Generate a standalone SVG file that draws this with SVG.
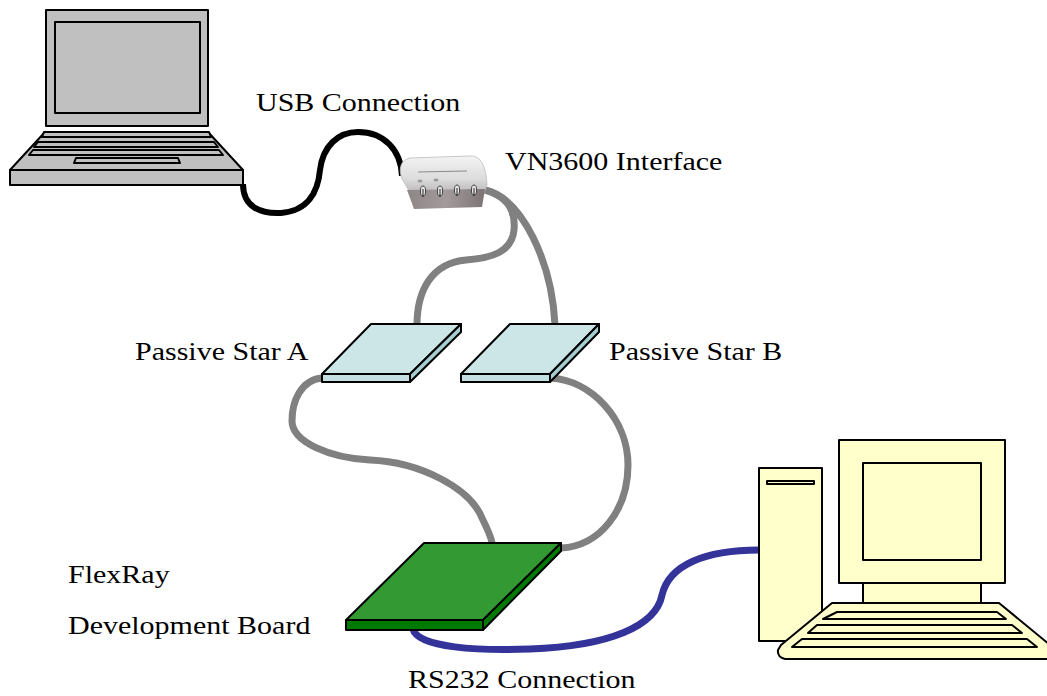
<svg xmlns="http://www.w3.org/2000/svg" width="1047" height="696" viewBox="0 0 1047 696">
  <defs>
    <linearGradient id="vnTop" x1="0" y1="0" x2="0" y2="1">
      <stop offset="0" stop-color="#f4f4f4"/>
      <stop offset="0.6" stop-color="#dcdcdc"/>
      <stop offset="1" stop-color="#b8b4b4"/>
    </linearGradient>
    <linearGradient id="vnFront" x1="0" y1="0" x2="1" y2="0">
      <stop offset="0" stop-color="#8e8686"/>
      <stop offset="0.5" stop-color="#a39b9b"/>
      <stop offset="1" stop-color="#7c7474"/>
    </linearGradient>
    <style>
      .ln { stroke: #000; stroke-width: 2; stroke-linejoin: round; }
      .laptop { fill: #c0c0c0; }
      .pc { fill: #ffffcc; }
      .star-top { fill: #cce6e8; }
      .star-front { fill: #c3e0e2; }
      .star-side { fill: #a6cdd1; }
      .board-top { fill: #339933; }
      .board-edge { fill: #007a00; }
      .cable { fill: none; stroke-linecap: butt; }
      .usb { stroke: #000; stroke-width: 6; }
      .bus { stroke: #808080; stroke-width: 7; }
      .rs232 { stroke: #333399; stroke-width: 7; }
      .lbl { font-family: "Liberation Serif", serif; font-size: 25px; fill: #000; }
    </style>
  </defs>

  <rect width="1047" height="696" fill="#fff"/>

  <!-- cables -->
  <g id="connectors">
    <path class="cable usb" d="M243,184 C243,208 262,214 281,213 C308,211 318,192 320,170 C323,146 338,132 358,132 C384,132 401,150 402,176"/>
    <path class="cable bus" d="M485,190 C506,196 516,210 514,230 C512,252 492,258 466,260 C432,263 417,290 417,325"/>
    <path class="cable bus" d="M485,190 C522,198 552,262 555,325"/>
    <path class="cable bus" d="M322,378 C301,380 292,401 292,421 C292,442 330,458 370,460 C420,462 470,488 482,518 C488,530 491,536 492,543"/>
    <path class="cable bus" d="M550,378 C592,380 628,420 628,465 C628,510 600,546 561,548"/>
    <path class="cable rs232" d="M413,629 C418,648 480,651 530,649 C610,646 656,626 662,595 C669,565 705,550 759,550"/>
  </g>

  <!-- laptop -->
  <g id="laptop">
    <rect class="laptop ln" x="46" y="10" width="162" height="116"/>
    <rect class="laptop ln" x="55" y="22" width="145" height="91"/>
    <path class="laptop ln" d="M45,132 L208,132 L243,170 L10,170 Z"/>
    <path class="laptop ln" d="M44,132 L209,132 L211,137 L42,137 Z"/>
    <path class="laptop ln" d="M38,142 L214,142 L218,147 L34,147 Z"/>
    <path class="laptop ln" d="M33,150 L219,150 L223,155 L29,155 Z"/>
    <path class="laptop ln" d="M76,158 L178,158 L180,163 L74,163 Z"/>
    <rect class="laptop ln" x="10" y="170" width="233" height="15"/>
  </g>

  <!-- VN3600 interface -->
  <g id="vn3600">
    <path d="M402,179 C398,168 401,160 410,158 L471,156 C481,156 486,166 487,185 L484,193 L411,194 Z" fill="url(#vnTop)" stroke="#bbb" stroke-width="0.8"/>
    <path d="M407,190 L485,189 L482,207 L414,209 Z" fill="url(#vnFront)"/>
    <path d="M418,172 L467,171" stroke="#8a8a8a" stroke-width="1.2"/>
    <ellipse cx="420" cy="181" rx="2.5" ry="1.5" fill="#9a9a9a"/>
    <ellipse cx="436" cy="180" rx="2.5" ry="1.5" fill="#9a9a9a"/>
    <g fill="#e6e6e6" stroke="#333" stroke-width="0.9">
      <ellipse cx="423" cy="191" rx="2.6" ry="5"/>
      <ellipse cx="440" cy="191" rx="2.6" ry="5"/>
      <ellipse cx="457" cy="190" rx="2.6" ry="5"/>
      <ellipse cx="474" cy="190" rx="2.6" ry="5"/>
    </g>
    <g stroke="#222" stroke-width="1">
      <path d="M423,189 L423,197"/>
      <path d="M440,189 L440,197"/>
      <path d="M457,188 L457,196"/>
      <path d="M474,188 L474,196"/>
    </g>
  </g>

  <!-- passive star A -->
  <g id="star-a">
    <path class="star-top ln" d="M371,324 L461,324 L410,374 L322,374 Z"/>
    <rect class="star-front ln" x="322" y="374" width="88" height="8"/>
    <path class="star-side ln" d="M410,374 L461,324 L461,332 L410,382 Z"/>
  </g>

  <!-- passive star B -->
  <g id="star-b">
    <path class="star-top ln" d="M510,324 L599,324 L550,374 L461,374 Z"/>
    <rect class="star-front ln" x="461" y="374" width="89" height="8"/>
    <path class="star-side ln" d="M550,374 L599,324 L599,332 L550,382 Z"/>
  </g>

  <!-- FlexRay development board -->
  <g id="board">
    <path class="board-top ln" d="M424,543 L561,543 L483,620 L346,620 Z"/>
    <rect class="board-edge ln" x="346" y="620" width="137" height="10"/>
    <path class="board-edge ln" d="M483,620 L561,543 L561,551 L483,630 Z"/>
  </g>

  <!-- desktop PC -->
  <g id="pc">
    <rect class="pc ln" x="759" y="468" width="63" height="173"/>
    <rect class="pc ln" x="767" y="481" width="47" height="3"/>
    <rect class="pc ln" x="863" y="583" width="118" height="21"/>
    <rect class="pc ln" x="839" y="440" width="166" height="143"/>
    <rect class="pc ln" x="863" y="463" width="118" height="97"/>
    <path class="pc ln" d="M832,603 L999,603 L1050,645 L1050,659 L785,659 Q777,657 778,650 L781,645 Z"/>
    <path class="pc ln" d="M837,612 L997,612 L1006,619 L823,619 Z"/>
    <path class="pc ln" d="M817,625 L1012,625 L1022,633 L808,633 Z"/>
    <path class="pc ln" d="M802,639 L1027,639 L1037,647 L792,647 Z"/>
  </g>

  <!-- labels, drawn 1.2x wide -->
  <g id="labels">
    <text class="lbl" transform="translate(256,111) scale(1.2,1)">USB Connection</text>
    <text class="lbl" transform="translate(505,170) scale(1.2,1)">VN3600 Interface</text>
    <text class="lbl" transform="translate(135,360) scale(1.2,1)">Passive Star A</text>
    <text class="lbl" transform="translate(609,360) scale(1.2,1)">Passive Star B</text>
    <text class="lbl" transform="translate(68,583) scale(1.2,1)">FlexRay</text>
    <text class="lbl" transform="translate(68,634) scale(1.2,1)">Development Board</text>
    <text class="lbl" transform="translate(408,688) scale(1.2,1)">RS232 Connection</text>
  </g>
</svg>
